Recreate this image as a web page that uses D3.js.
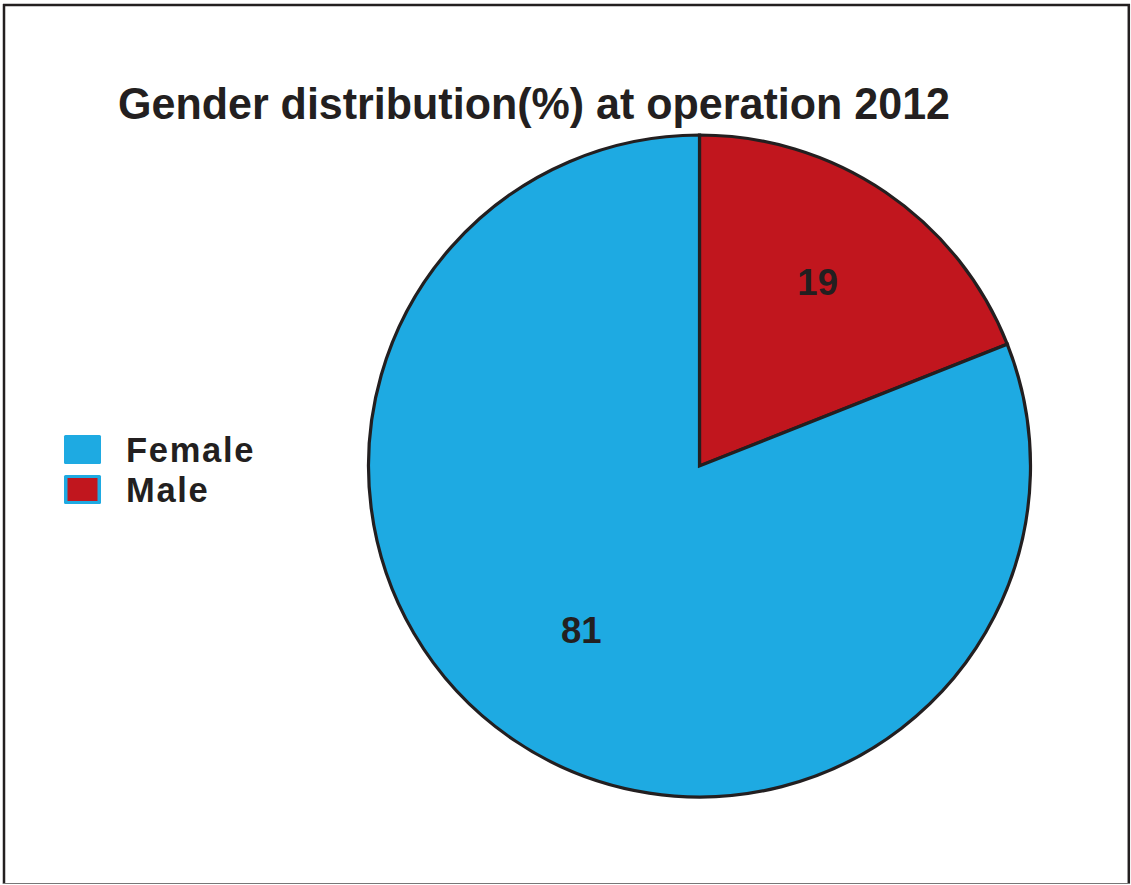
<!DOCTYPE html>
<html>
<head>
<meta charset="utf-8">
<script src="https://cdn.jsdelivr.net/npm/d3@7/dist/d3.min.js"></script>
<style>
  html, body { margin: 0; padding: 0; background: #ffffff; }
  svg { display: block; }
  text { font-family: "Liberation Sans", Arial, Helvetica, sans-serif; font-weight: bold; fill: #231f20; }
</style>
</head>
<body>
<svg id="chart" width="1131" height="885"></svg>
<script>
// Gender split at operation, 2012 (percent)
const categories = ["Male", "Female"];
const values = [19, 81];
const legendOrder = ["Female", "Male"];
const colors = { Female: "#1eaae2", Male: "#c1161e" };
const titleText = "Gender distribution(%) at operation 2012";

const svg = d3.select("#chart");

// outer frame
svg.append("line").attr("x1", 3).attr("x2", 1130).attr("y1", 5).attr("y2", 5)
  .attr("stroke", "#231f20").attr("stroke-width", 2.5);
svg.append("line").attr("x1", 4).attr("x2", 4).attr("y1", 4).attr("y2", 884)
  .attr("stroke", "#231f20").attr("stroke-width", 2.5);
svg.append("line").attr("x1", 1128.8).attr("x2", 1128.8).attr("y1", 4).attr("y2", 884)
  .attr("stroke", "#231f20").attr("stroke-width", 2.5);
svg.append("line").attr("x1", 3).attr("x2", 1130).attr("y1", 883.5).attr("y2", 883.5)
  .attr("stroke", "#777777").attr("stroke-width", 1.2);

// title
svg.append("text")
  .attr("x", 118).attr("y", 118.5)
  .attr("font-size", 44.5)
  .attr("textLength", 832).attr("lengthAdjust", "spacingAndGlyphs")
  .text(titleText);

// pie
const cx = 699.5, cy = 466, r = 331;
const data = categories.map((c, i) => ({ name: c, value: values[i] }));
const pie = d3.pie().sort(null).value(d => d.value);
const arc = d3.arc().innerRadius(0).outerRadius(r);
const labelArc = d3.arc().innerRadius(r * 0.635).outerRadius(r * 0.635);

const g = svg.append("g").attr("transform", `translate(${cx},${cy})`);
const arcs = pie(data);

g.selectAll("path.slice")
  .data(arcs)
  .join("path")
  .attr("class", "slice")
  .attr("d", arc)
  .attr("fill", d => colors[d.data.name])
  .attr("stroke", "#231f20")
  .attr("stroke-width", 3.2)
  .attr("stroke-linejoin", "miter");

g.selectAll("text.val")
  .data(arcs)
  .join("text")
  .attr("class", "val")
  .attr("transform", d => {
    const [x, y] = labelArc.centroid(d);
    return `translate(${x},${y})`;
  })
  .attr("text-anchor", "middle")
  .attr("dy", "0.08em")
  .attr("font-size", 36.5)
  .text(d => d.data.value);

// legend
const legend = svg.append("g");
const rowY = d3.scalePoint().domain(legendOrder).range([449, 489]);
legendOrder.forEach(name => {
  const y = rowY(name);
  const row = legend.append("g");
  if (name === "Male") {
    row.append("rect").attr("x", 64).attr("y", y - 14).attr("width", 37).attr("height", 29)
      .attr("rx", 1.5).attr("fill", colors.Female);
    row.append("rect").attr("x", 67.5).attr("y", y - 11).attr("width", 30).attr("height", 23)
      .attr("fill", colors.Male);
  } else {
    row.append("rect").attr("x", 64).attr("y", y - 14).attr("width", 37).attr("height", 29)
      .attr("rx", 1.5).attr("fill", colors[name]);
  }
  row.append("text")
    .attr("x", 126).attr("y", y + 12.5)
    .attr("font-size", 34.5)
    .attr("letter-spacing", 1.7)
    .text(name);
});
</script>
</body>
</html>
